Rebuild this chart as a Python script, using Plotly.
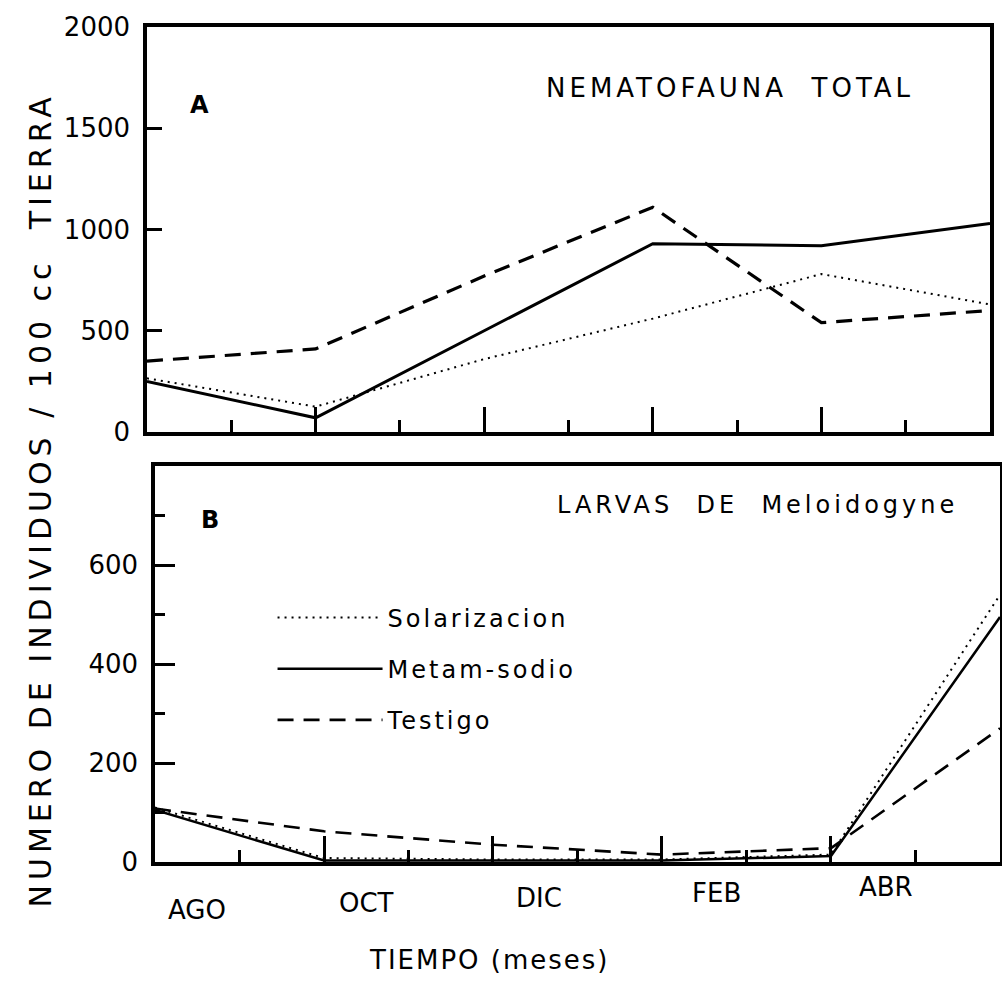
import plotly.graph_objects as go

# ---- data ----
months = [0, 2, 4, 6, 8, 10]          # AGO, OCT, DIC, FEB, ABR, JUN (months since AGO)
month_labels = ["AGO", "OCT", "DIC", "FEB", "ABR"]
month_label_pos = [0.5, 2.5, 4.55, 6.65, 8.65]
month_label_y = [0.080, 0.087, 0.092, 0.097, 0.103]

# Panel A: Nematofauna total
sol_A = [265, 125, 360, 560, 780, 630]
met_A = [250, 70, 500, 930, 920, 1030]
test_A = [350, 410, 770, 1110, 540, 600]

# Panel B: Larvas de Meloidogyne
sol_B = [110, 8, 5, 5, 15, 540]
met_B = [105, 3, 3, 3, 12, 495]
test_B = [108, 62, 35, 15, 28, 270]

FONT = "DejaVu Sans"
BLK = "black"


def spaced(t, px):
    return f'<span style="letter-spacing:{px}px">{t}</span>'


fig = go.Figure()

styles = {
    "Solarizacion": dict(color=BLK, width=2, dash="2px,5px"),
    "Metam-sodio": dict(color=BLK, width=3),
    "Testigo": dict(color=BLK, width=3.2, dash="16px,10px"),
}
groups = {"Solarizacion": "sol", "Metam-sodio": "met", "Testigo": "test"}

for name, ys in [("Solarizacion", sol_A), ("Metam-sodio", met_A), ("Testigo", test_A)]:
    fig.add_trace(go.Scatter(x=months, y=ys, xaxis="x", yaxis="y", mode="lines",
                             name=name, line=styles[name], legendgroup=groups[name],
                             showlegend=False))

for name, ys in [("Solarizacion", sol_B), ("Metam-sodio", met_B), ("Testigo", test_B)]:
    st = dict(styles[name])
    if name == "Metam-sodio":
        st["width"] = 2.5
    if name == "Testigo":
        st["width"] = 2.6
    fig.add_trace(go.Scatter(x=months, y=ys, xaxis="x2", yaxis="y2", mode="lines",
                             name=spaced(name, 3), line=st, legendgroup=groups[name],
                             showlegend=True))

axis_common = dict(showline=True, linewidth=3.5, linecolor=BLK, mirror=True,
                   showgrid=False, zeroline=False, tickcolor=BLK, tickwidth=2.5,
                   automargin=False)


def ann(text, x, y, size, xref="paper", angle=0):
    return dict(text=text, x=x, y=y, xref=xref, yref="paper", textangle=angle,
                showarrow=False, xanchor="center", yanchor="middle",
                font=dict(size=size, family=FONT, color=BLK))


annotations = [
    ann(spaced("NUMERO DE INDIVIDUOS / 100 cc  TIERRA", 5), 0.04, 0.494, 30, angle=-90),
    ann(spaced("TIEMPO (meses)", 2), 0.489, 0.0293, 26),
    ann("<b>A</b>", 0.1996, 0.8938, 24),
    ann("<b>B</b>", 0.2096, 0.4742, 24),
    ann(spaced("NEMATOFAUNA  TOTAL", 4), 0.7285, 0.911, 26),
    ann(spaced("LARVAS  DE  Meloidogyne", 4), 0.7555, 0.4894, 24),
]
for lab, pos, yy in zip(month_labels, month_label_pos, month_label_y):
    annotations.append(ann(lab, pos, yy, 26, xref="x2"))

fig.update_layout(
    width=1002, height=989,
    margin=dict(l=0, r=0, t=0, b=0, autoexpand=False),
    paper_bgcolor="white", plot_bgcolor="white",
    font=dict(family=FONT, color=BLK, size=24),
    showlegend=True,
    legend=dict(x=0.272, y=0.398, xanchor="left", yanchor="top",
                bgcolor="rgba(0,0,0,0)", font=dict(size=24, family=FONT),
                tracegroupgap=17, itemwidth=105),
    xaxis=dict(domain=[0.1467, 0.988], anchor="y", range=[0, 10],
               tickvals=[2, 4, 6, 8], ticks="inside", ticklen=25, showticklabels=False,
               minor=dict(tickvals=[1, 3, 5, 7, 9], ticks="inside", ticklen=12,
                          tickwidth=2.5, tickcolor=BLK),
               **axis_common),
    yaxis=dict(domain=[0.5632, 0.9727], anchor="x", range=[0, 2000],
               tickvals=[0, 500, 1000, 1500, 2000], ticks="inside", ticklen=15,
               tickfont=dict(size=26), ticklabelstandoff=8,
               **axis_common),
    xaxis2=dict(domain=[0.1547, 0.998], anchor="y2", range=[0, 10],
                tickvals=[2, 4, 6, 8], ticks="inside", ticklen=26, showticklabels=False,
                minor=dict(tickvals=[1, 3, 5, 7, 9], ticks="inside", ticklen=12,
                           tickwidth=2.5, tickcolor=BLK),
                **axis_common),
    yaxis2=dict(domain=[0.1284, 0.5288], anchor="x2", range=[0, 800],
                tickvals=[0, 200, 400, 600], ticks="inside", ticklen=20,
                minor=dict(tickvals=[100, 300, 500, 700], ticks="inside", ticklen=10,
                           tickwidth=2.5, tickcolor=BLK),
                tickfont=dict(size=26), ticklabelstandoff=8,
                **axis_common),
    annotations=annotations,
)

fig.write_html("out.html")
